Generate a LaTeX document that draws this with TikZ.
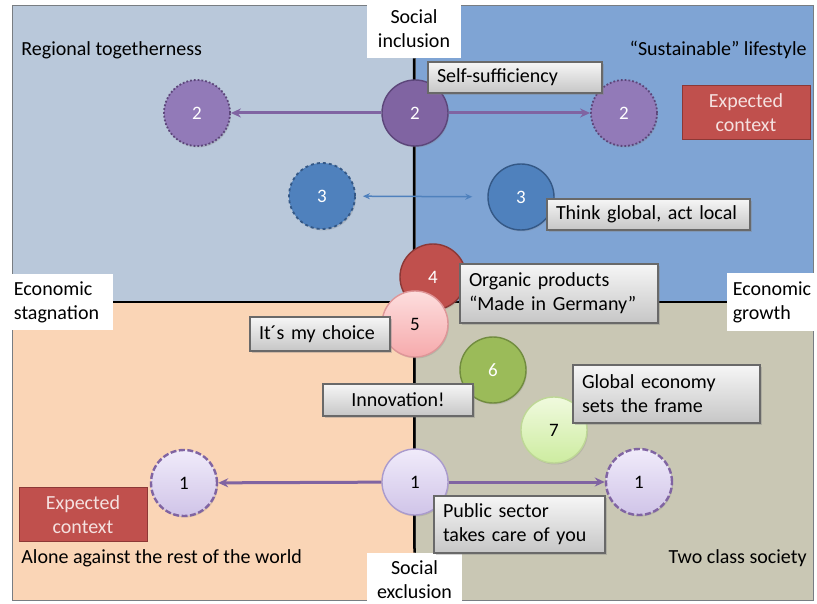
\documentclass[tikz,border=0pt]{standalone}
\usepackage{fontspec}
\setmainfont{Carlito}
\usetikzlibrary{shadows,arrows.meta}

\definecolor{quadTL}{RGB}{185,200,218}
\definecolor{quadTR}{RGB}{127,164,212}
\definecolor{quadBL}{RGB}{250,213,182}
\definecolor{quadBR}{RGB}{201,199,180}
\definecolor{quadLine}{RGB}{120,125,130}
\definecolor{purpleC}{RGB}{128,100,162}
\definecolor{purpleD}{RGB}{92,70,122}
\definecolor{purpleL}{RGB}{146,122,184}
\definecolor{blueC}{RGB}{79,129,189}
\definecolor{blueD}{RGB}{52,88,134}
\definecolor{redC}{RGB}{192,80,77}
\definecolor{redD}{RGB}{140,56,54}
\definecolor{pinkT}{RGB}{253,222,222}
\definecolor{pinkB}{RGB}{246,170,172}
\definecolor{pinkD}{RGB}{222,150,152}
\definecolor{greenC}{RGB}{155,187,89}
\definecolor{greenD}{RGB}{113,140,63}
\definecolor{limeT}{RGB}{240,250,222}
\definecolor{limeB}{RGB}{205,236,160}
\definecolor{limeD}{RGB}{190,215,150}
\definecolor{lavT}{RGB}{240,235,250}
\definecolor{lavB}{RGB}{208,196,232}
\definecolor{lavD}{RGB}{170,155,205}
\definecolor{boxT}{RGB}{246,246,246}
\definecolor{boxB}{RGB}{198,198,198}
\definecolor{boxD}{RGB}{105,105,105}
\definecolor{ctxText}{RGB}{245,225,224}

\tikzset{every picture/.style={line width=0.75pt}}

\begin{document}
\begin{tikzpicture}[x=1pt,y=1pt,yscale=-1,
  font=\fontsize{20}{24}\selectfont,
  quad/.style={draw=quadLine, line width=1pt},
  wlabel/.style={fill=white, inner sep=0pt, align=left},
  axis/.style={line width=2.5pt, black},
  numc/.style={circle, minimum size=66pt, inner sep=0pt, line width=1.4pt,
    font=\fontsize{19}{22}\selectfont, drop shadow={shadow xshift=1pt, shadow yshift=-1.5pt, opacity=0.25}},
  ghostc/.style={numc, line width=1.8pt},
  gbox/.style={rectangle, draw=boxD, line width=1.2pt, top color=boxT, bottom color=boxB,
    inner xsep=9pt, inner ysep=0pt, align=left,
    drop shadow={shadow xshift=2pt, shadow yshift=-2pt, opacity=0.35}},
  ctxbox/.style={rectangle, fill=redC, draw=redD, line width=1pt, text=ctxText,
    minimum width=128pt, minimum height=54pt, align=center, inner sep=0pt},
  move/.style={-{Stealth[length=10pt,width=9pt]}, line width=3pt, draw=purpleC}]
\useasboundingbox (0,0) rectangle (817,604);

% Quadrants
\draw[quad, fill=quadTL] (12,6) rectangle (415,302);
\draw[quad, fill=quadTR] (415,6) rectangle (813,302);
\draw[quad, fill=quadBL] (12,302) rectangle (415,600);
\draw[quad, fill=quadBR] (415,302) rectangle (813,600);

% Axis labels
\node[wlabel, minimum width=94pt, minimum height=58pt, align=center] (incl) at (414,29) {Social\\inclusion};
\node[wlabel, minimum width=95pt, minimum height=54pt, align=center] (excl) at (414.5,580) {Social\\exclusion};
\node[wlabel, minimum width=113pt, minimum height=56pt] (stag) at (56.5,302) {Economic\\stagnation};
\node[wlabel, minimum width=90pt, minimum height=58pt] (grow) at (772,302) {Economic\\growth};

% Axes
\draw[axis] (stag.east) -- (grow.west);
\draw[axis] (incl.south) -- (excl.north);

% Quadrant titles
\node[anchor=west, inner sep=0pt] (qtl) at (21,50) {Regional togetherness};
\node[anchor=east, inner sep=0pt] (qtr) at (807,50) {“Sustainable” lifestyle};
\node[anchor=west, inner sep=0pt] (qbl) at (21,558) {Alone against the rest of the world};
\node[anchor=east, inner sep=0pt] (qbr) at (807,558) {Two class society};

% Expected context
\node[ctxbox] (ctxa) at (746,113) {Expected\\context};
\node[ctxbox] (ctxb) at (83,514.5) {Expected\\context};

% Scenario 2
\node[ghostc, fill=purpleL, draw=purpleD, dotted, text=white] (s2w) at (197,113) {2};
\node[ghostc, fill=purpleL, draw=purpleD, dotted, text=white] (s2e) at (624,113) {2};
\node[numc, fill=purpleC, draw=purpleD, text=white] (s2) at (415,113) {2};
\draw[move] (s2) -- (s2w);
\draw[move] (s2) -- (s2e);

% Scenario 3
\node[ghostc, fill=blueC, draw=blueD, dashed, text=white] (s3w) at (322,196) {3};
\node[numc, fill=blueC, draw=blueD, text=white] (s3e) at (521,197) {3};
\draw[{Stealth[length=7pt,width=6pt]}-{Stealth[length=7pt,width=6pt]}, line width=1.5pt, draw=blueC,
  shorten <=7pt, shorten >=15pt] (s3w) -- (s3e);

% Scenarios 4 - 7
\node[numc, fill=redC, draw=redD, text=white] (s4) at (433,277) {4};
\node[numc, top color=pinkT, bottom color=pinkB, draw=pinkD] (s5) at (415,324) {5};
\node[numc, fill=greenC, draw=greenD, text=white] (s6) at (493,370) {6};
\node[numc, top color=limeT, bottom color=limeB, draw=limeD] (s7) at (554,430) {7};

% Scenario 1
\node[ghostc, top color=lavT, bottom color=lavB, draw=purpleC, dash pattern=on 6pt off 2.5pt, line width=2.4pt] (s1w) at (184,483) {1};
\node[ghostc, top color=lavT, bottom color=lavB, draw=purpleC, dash pattern=on 6pt off 2.5pt, line width=2.4pt] (s1e) at (639,482) {1};
\node[numc, top color=lavT, bottom color=lavB, draw=lavD] (s1) at (415,482) {1};
\draw[move] (s1) -- (s1w);
\draw[move] (s1) -- (s1e);

% Text boxes
\node[gbox, text width=156pt, minimum height=31pt] (tself) at (515,77.5) {Self-sufficiency};
\node[gbox, text width=185pt, minimum height=31pt] (tthink) at (648.5,214.5) {Think global, act local};
\node[gbox, text width=180pt, minimum height=59pt] (torg) at (559,293.5) {Organic products\\“Made in Germany”};
\node[gbox, text width=122pt, minimum height=34pt] (tchoice) at (320,334) {It´s my choice};
\node[gbox, text width=132pt, minimum height=32pt, align=center] (tinno) at (398,400) {Innovation!};
\node[gbox, text width=169pt, minimum height=58pt] (tglob) at (666.5,394) {Global economy\\sets the frame};
\node[gbox, text width=153pt, minimum height=57pt] (tpub) at (519.5,524.5) {Public sector\\takes care of you};

\end{tikzpicture}
\end{document}
